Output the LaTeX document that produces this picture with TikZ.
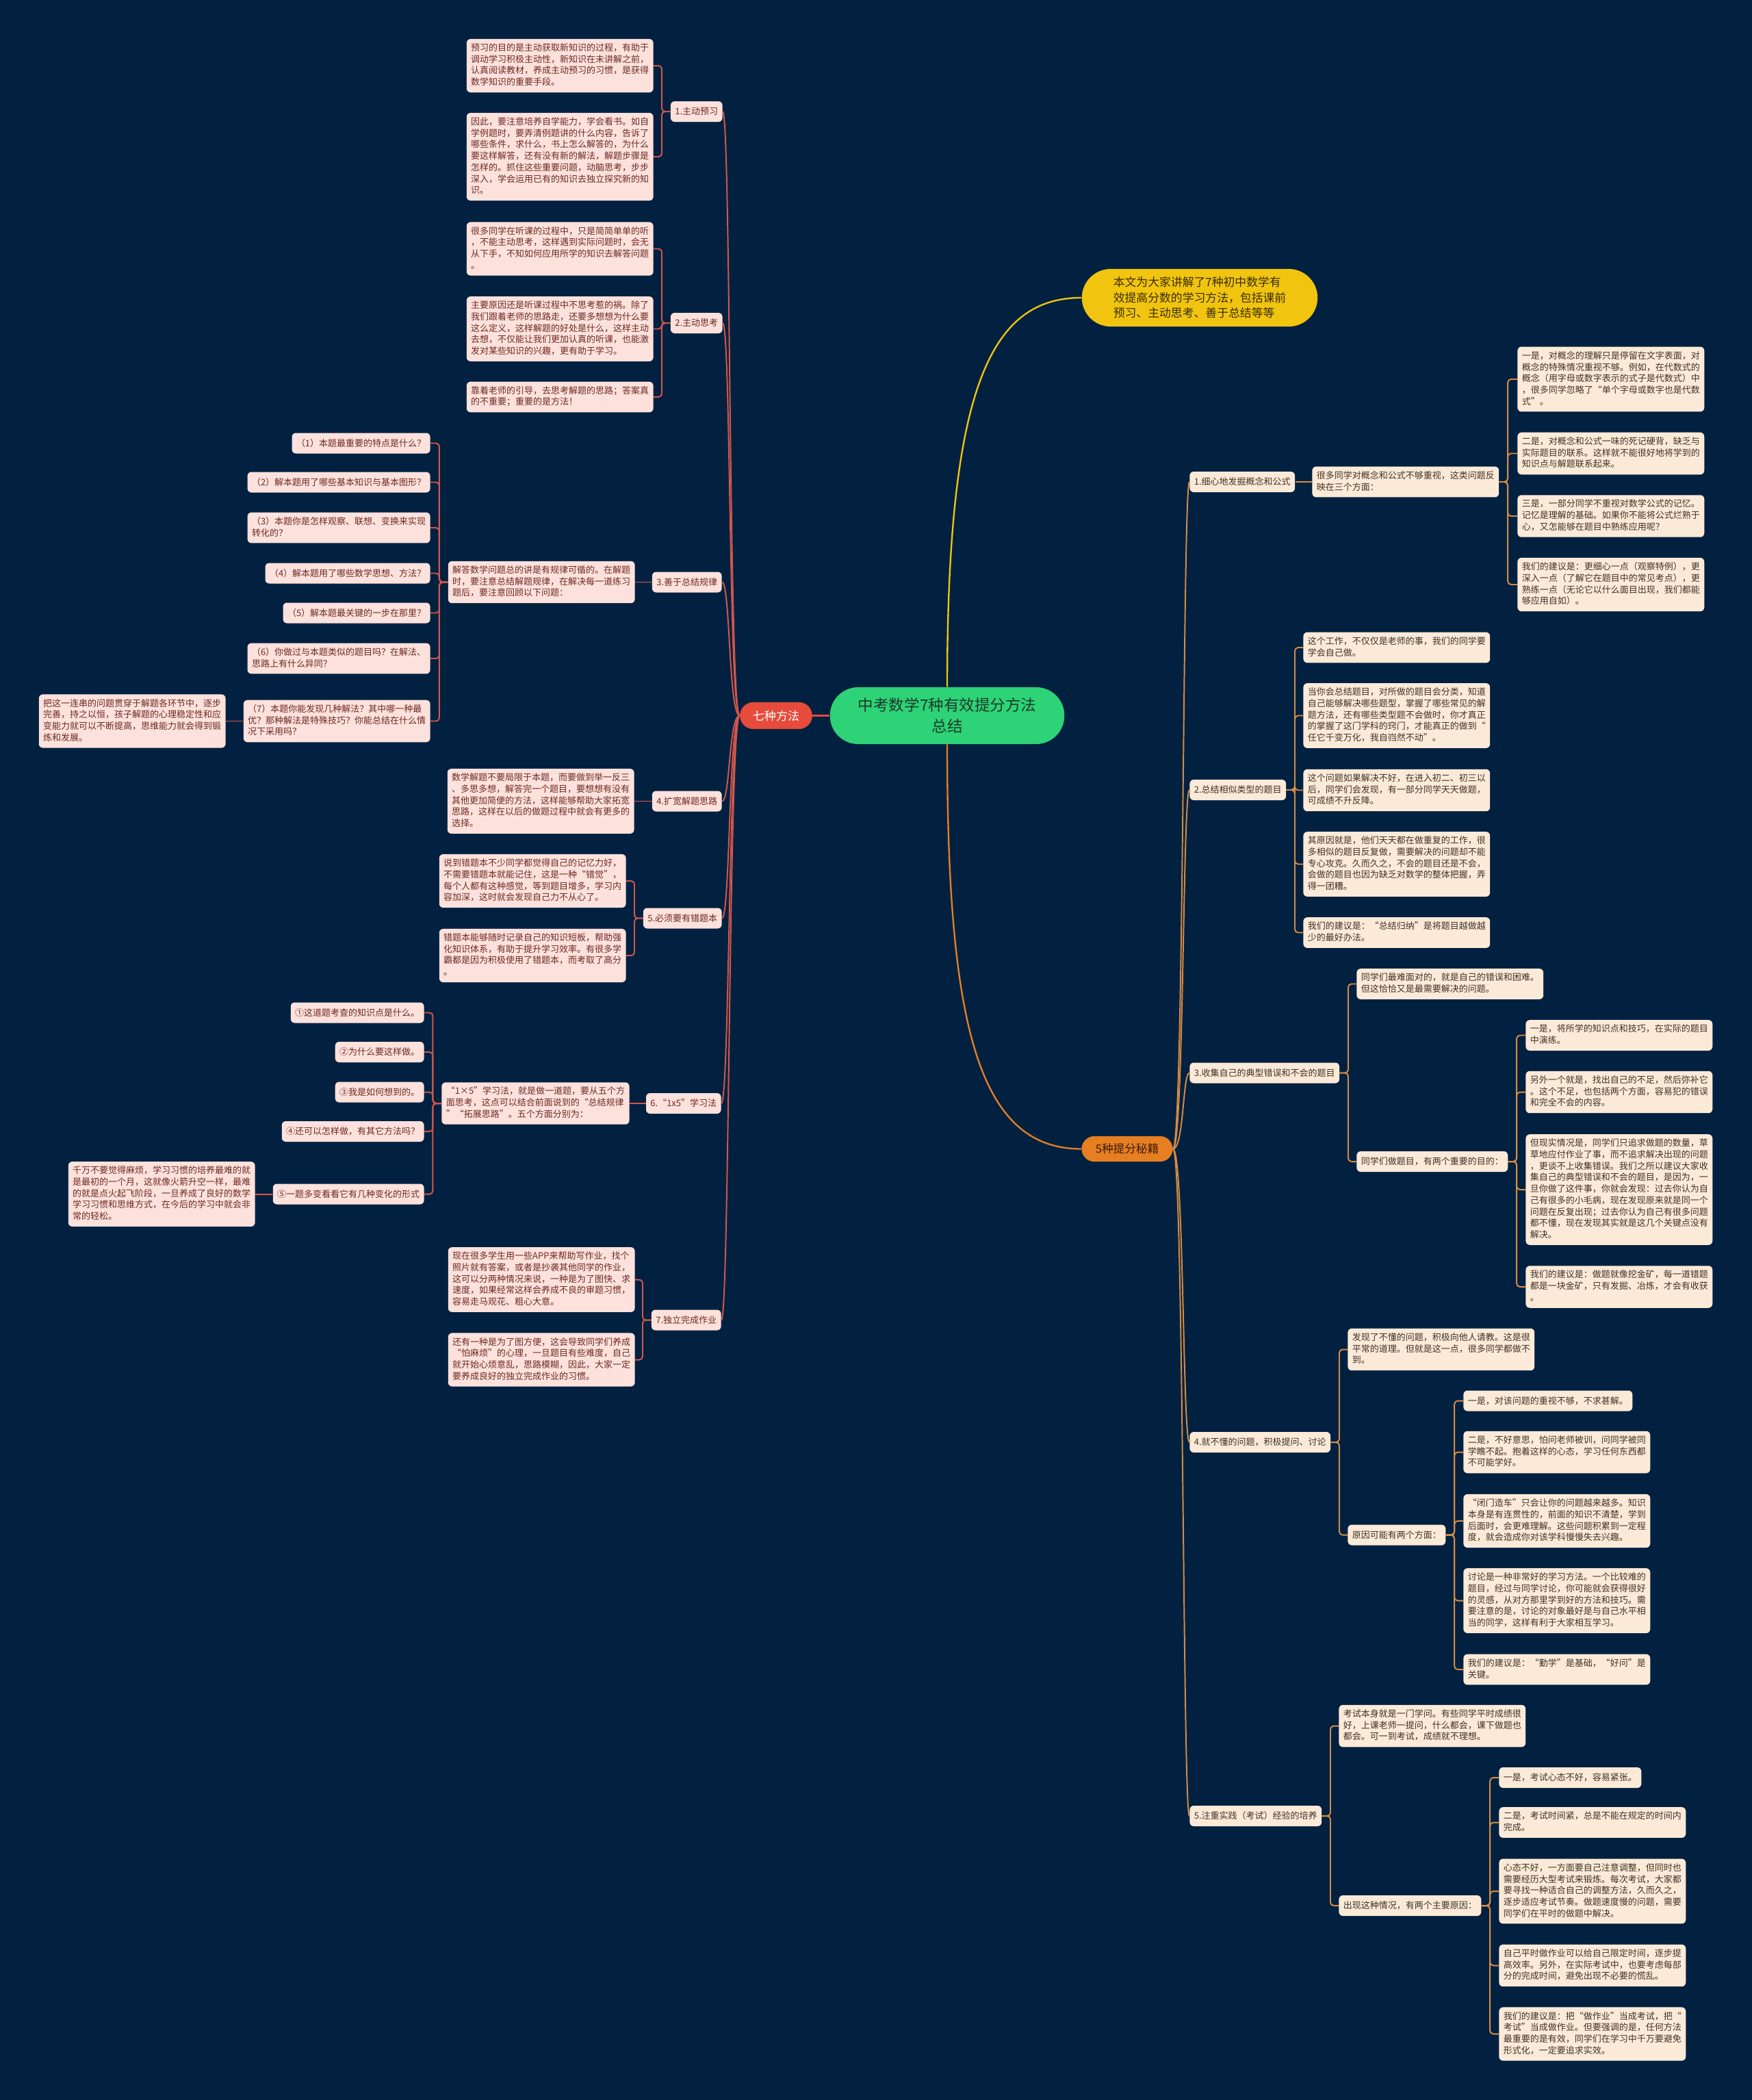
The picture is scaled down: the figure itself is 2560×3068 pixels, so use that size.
\documentclass[tikz,border=0pt]{standalone}
\usepackage{fontspec}
\setmainfont{Noto Sans CJK SC}
\usepackage{xcolor}
\usepackage{tikz}

\definecolor{bgnavy}{HTML}{022140}
\definecolor{leftfill}{HTML}{FCE1DC}
\definecolor{lefttext}{HTML}{6E2A22}
\definecolor{leftline}{HTML}{D4564B}
\definecolor{rightfill}{HTML}{FCEAD8}
\definecolor{righttext}{HTML}{3F3226}
\definecolor{rightline}{HTML}{D68B45}
\definecolor{rootgreen}{HTML}{2ED277}
\definecolor{roottext}{HTML}{1B3B26}
\definecolor{sevenred}{HTML}{E64B3C}
\definecolor{introyellow}{HTML}{F1C40F}
\definecolor{introtext}{HTML}{3A2E05}
\definecolor{fiveorange}{HTML}{E67E22}
\definecolor{fivetext}{HTML}{3B1E08}

\newcommand\bxs{\rule[-1.9pt]{0pt}{8.53pt}}

\tikzset{
  box/.style={rounded corners=3pt, align=left, inner xsep=3.3pt, inner ysep=3.4pt,
    font=\fontsize{6.64}{8.53}\selectfont,
    execute at begin node=\bxs, execute at end node=\bxs},
  lbox/.style={box, fill=leftfill, text=lefttext, anchor=east},
  rbox/.style={box, fill=rightfill, text=righttext, anchor=west},
  lline/.style={draw=leftline, line width=1pt, rounded corners=2.5pt},
  rline/.style={draw=rightline, line width=1pt, rounded corners=2.5pt},
  root/.style={fill=rootgreen, text=roottext, rounded corners=21pt, inner sep=0pt,
    minimum width=175pt, minimum height=42.4pt, align=center,
    font=\fontsize{11.5}{16}\selectfont},
  seven/.style={fill=sevenred, text=white, rounded corners=10pt, inner sep=0pt,
    minimum width=54pt, minimum height=20pt, font=\fontsize{8.7}{10}\selectfont},
  intro/.style={fill=introyellow, text=introtext, rounded corners=21.5pt, inner sep=0pt,
    minimum width=176pt, minimum height=43pt, align=left,
    font=\fontsize{8.6}{11.5}\selectfont},
  five/.style={fill=fiveorange, text=fivetext, rounded corners=9.5pt, inner sep=0pt,
    minimum width=68pt, minimum height=19pt, font=\fontsize{8.5}{10}\selectfont},
}

\begin{document}
\begin{tikzpicture}[x=0.5109375pt, y=-0.5109375pt]
% background
\fill[bgnavy] (0,0) rectangle (2560,3068);

% central topics
\node[root] (root) at (1384,1045.5) {中考数学7种有效提分方法\\总结};
\node[seven] (seven) at (1134,1045.5) {七种方法};
\node[intro] (intro) at (1753,435) {本文为大家讲解了7种初中数学有\\效提高分数的学习方法，包括课前\\预习、主动思考、善于总结等等};
\node[five] (five) at (1647,1678.5) {5种提分秘籍};

\draw[sevenred, line width=1.2pt] (root.west) -- (seven.east);
\draw[introyellow, line width=1.2pt] (root.north) .. controls (1384,560) and (1450,435) .. (intro.west);
\draw[fiveorange, line width=1.2pt] (root.south) .. controls (1384,1500) and (1430,1678.5) .. (five.west);

% left branch: seven methods
\node[lbox] (l1) at (1056,163) {1.主动预习};
\node[lbox] (pre1) at (955,96) {预习的目的是主动获取新知识的过程，有助于\\调动学习积极主动性，新知识在未讲解之前，\\认真阅读教材，养成主动预习的习惯，是获得\\数学知识的重要手段。};
\node[lbox] (pre2) at (955,229) {因此，要注意培养自学能力，学会看书。如自\\学例题时，要弄清例题讲的什么内容，告诉了\\哪些条件，求什么，书上怎么解答的，为什么\\要这样解答，还有没有新的解法，解题步骤是\\怎样的。抓住这些重要问题，动脑思考，步步\\深入，学会运用已有的知识去独立探究新的知\\识。};

\node[lbox] (l2) at (1056,472) {2.主动思考};
\node[lbox] (thk1) at (955,363.5) {很多同学在听课的过程中，只是简简单单的听\\，不能主动思考，这样遇到实际问题时，会无\\从下手，不知如何应用所学的知识去解答问题\\。};
\node[lbox] (thk2) at (955,480.5) {主要原因还是听课过程中不思考惹的祸。除了\\我们跟着老师的思路走，还要多想想为什么要\\这么定义，这样解题的好处是什么，这样主动\\去想，不仅能让我们更加认真的听课，也能激\\发对某些知识的兴趣，更有助于学习。};
\node[lbox] (thk3) at (955,580) {靠着老师的引导，去思考解题的思路；答案真\\的不重要；重要的是方法！};

\node[lbox] (l3) at (1055,850.5) {3.善于总结规律};
\node[lbox] (sum) at (928,850.5) {解答数学问题总的讲是有规律可循的。在解题\\时，要注意总结解题规律，在解决每一道练习\\题后，要注意回顾以下问题：};
\node[lbox] (q1) at (629,647.5) {（1）本题最重要的特点是什么？};
\node[lbox] (q2) at (629,704.5) {（2）解本题用了哪些基本知识与基本图形？};
\node[lbox] (q3) at (629,771) {（3）本题你是怎样观察、联想、变换来实现\\转化的？};
\node[lbox] (q4) at (629,837.5) {（4）解本题用了哪些数学思想、方法？};
\node[lbox] (q5) at (629,895.5) {（5）解本题最关键的一步在那里？};
\node[lbox] (q6) at (629,962) {（6）你做过与本题类似的题目吗？在解法、\\思路上有什么异同？};
\node[lbox] (q7) at (629,1053.5) {（7）本题你能发现几种解法？其中哪一种最\\优？那种解法是特殊技巧？你能总结在什么情\\况下采用吗？};
\node[lbox] (qend) at (330,1053.5) {把这一连串的问题贯穿于解题各环节中，逐步\\完善，持之以恒，孩子解题的心理稳定性和应\\变能力就可以不断提高，思维能力就会得到锻\\炼和发展。};

\node[lbox] (l4) at (1055,1170.5) {4.扩宽解题思路};
\node[lbox] (ext) at (927,1170.5) {数学解题不要局限于本题，而要做到举一反三\\、多思多想，解答完一个题目，要想想有没有\\其他更加简便的方法，这样能够帮助大家拓宽\\思路，这样在以后的做题过程中就会有更多的\\选择。};

\node[lbox] (l5) at (1055,1341.5) {5.必须要有错题本};
\node[lbox] (err1) at (915,1287) {说到错题本不少同学都觉得自己的记忆力好，\\不需要错题本就能记住，这是一种“错觉”，\\每个人都有这种感觉，等到题目增多，学习内\\容加深，这时就会发现自己力不从心了。};
\node[lbox] (err2) at (915,1396) {错题本能够随时记录自己的知识短板，帮助强\\化知识体系，有助于提升学习效率。有很多学\\霸都是因为积极使用了错题本，而考取了高分\\。};

\node[lbox] (l6) at (1054,1612) {6.“1x5”学习法};
\node[lbox] (fv) at (920,1612) {“1×5”学习法，就是做一道题，要从五个方\\面思考，这点可以结合前面说到的“总结规律\\”“拓展思路”。五个方面分别为：};
\node[lbox] (f1) at (620,1479.5) {①这道题考查的知识点是什么。};
\node[lbox] (f2) at (620,1537) {②为什么要这样做。};
\node[lbox] (f3) at (620,1595.5) {③我是如何想到的。};
\node[lbox] (f4) at (620,1653) {④还可以怎样做，有其它方法吗？};
\node[lbox] (f5) at (620,1744.5) {⑤一题多变看看它有几种变化的形式};
\node[lbox] (fend) at (373,1744.5) {千万不要觉得麻烦，学习习惯的培养最难的就\\是最初的一个月，这就像火箭升空一样，最难\\的就是点火起飞阶段，一旦养成了良好的数学\\学习习惯和思维方式，在今后的学习中就会非\\常的轻松。};

\node[lbox] (l7) at (1054,1928.5) {7.独立完成作业};
\node[lbox] (hw1) at (928,1869.5) {现在很多学生用一些APP来帮助写作业，找个\\照片就有答案，或者是抄袭其他同学的作业，\\这可以分两种情况来说，一种是为了图快、求\\速度，如果经常这样会养成不良的审题习惯，\\容易走马观花、粗心大意。};
\node[lbox] (hw2) at (928,1986.5) {还有一种是为了图方便，这会导致同学们养成\\“怕麻烦”的心理，一旦题目有些难度，自己\\就开始心烦意乱，思路模糊，因此，大家一定\\要养成良好的独立完成作业的习惯。};

% right branch: five tips
\node[rbox] (r1) at (1738,704) {1.细心地发掘概念和公式};
\node[rbox] (con) at (1917,704) {很多同学对概念和公式不够重视，这类问题反\\映在三个方面：};
\node[rbox] (con1) at (2217,554) {一是，对概念的理解只是停留在文字表面，对\\概念的特殊情况重视不够。例如，在代数式的\\概念（用字母或数字表示的式子是代数式）中\\，很多同学忽略了“单个字母或数字也是代数\\式”。};
\node[rbox] (con2) at (2217,662.5) {二是，对概念和公式一味的死记硬背，缺乏与\\实际题目的联系。这样就不能很好地将学到的\\知识点与解题联系起来。};
\node[rbox] (con3) at (2217,754) {三是，一部分同学不重视对数学公式的记忆。\\记忆是理解的基础。如果你不能将公式烂熟于\\心，又怎能够在题目中熟练应用呢？};
\node[rbox] (con4) at (2217,854) {我们的建议是：更细心一点（观察特例），更\\深入一点（了解它在题目中的常见考点），更\\熟练一点（无论它以什么面目出现，我们都能\\够应用自如）。};

\node[rbox] (r2) at (1738,1154) {2.总结相似类型的题目};
\node[rbox] (sim1) at (1904,946) {这个工作，不仅仅是老师的事，我们的同学要\\学会自己做。};
\node[rbox] (sim2) at (1904,1045.5) {当你会总结题目，对所做的题目会分类，知道\\自己能够解决哪些题型，掌握了哪些常见的解\\题方法，还有哪些类型题不会做时，你才真正\\的掌握了这门学科的窍门，才能真正的做到“\\任它千变万化，我自岿然不动”。};
\node[rbox] (sim3) at (1904,1154.5) {这个问题如果解决不好，在进入初二、初三以\\后，同学们会发现，有一部分同学天天做题，\\可成绩不升反降。};
\node[rbox] (sim4) at (1904,1262.5) {其原因就是，他们天天都在做重复的工作，很\\多相似的题目反复做，需要解决的问题却不能\\专心攻克。久而久之，不会的题目还是不会，\\会做的题目也因为缺乏对数学的整体把握，弄\\得一团糟。};
\node[rbox] (sim5) at (1904,1362.5) {我们的建议是：“总结归纳”是将题目越做越\\少的最好办法。};

\node[rbox] (r3) at (1738,1567.5) {3.收集自己的典型错误和不会的题目};
\node[rbox] (col1) at (1982,1437.5) {同学们最难面对的，就是自己的错误和困难。\\但这恰恰又是最需要解决的问题。};
\node[rbox] (colq) at (1982,1697) {同学们做题目，有两个重要的目的：};
\node[rbox] (colq1) at (2229,1512.5) {一是，将所学的知识点和技巧，在实际的题目\\中演练。};
\node[rbox] (colq2) at (2229,1595.5) {另外一个就是，找出自己的不足，然后弥补它\\。这个不足，也包括两个方面，容易犯的错误\\和完全不会的内容。};
\node[rbox] (colq3) at (2229,1738) {但现实情况是，同学们只追求做题的数量，草\\草地应付作业了事，而不追求解决出现的问题\\，更谈不上收集错误。我们之所以建议大家收\\集自己的典型错误和不会的题目，是因为，一\\旦你做了这件事，你就会发现：过去你认为自\\己有很多的小毛病，现在发现原来就是同一个\\问题在反复出现；过去你认为自己有很多问题\\都不懂，现在发现其实就是这几个关键点没有\\解决。};
\node[rbox] (colq4) at (2229,1880) {我们的建议是：做题就像挖金矿，每一道错题\\都是一块金矿，只有发掘、冶炼，才会有收获\\。};

\node[rbox] (r4) at (1738,2107) {4.就不懂的问题，积极提问、讨论};
\node[rbox] (ask1) at (1969,1971.5) {发现了不懂的问题，积极向他人请教。这是很\\平常的道理。但就是这一点，很多同学都做不\\到。};
\node[rbox] (askr) at (1969,2242.5) {原因可能有两个方面：};
\node[rbox] (askr1) at (2138,2046.5) {一是，对该问题的重视不够，不求甚解。};
\node[rbox] (askr2) at (2138,2121.5) {二是，不好意思，怕问老师被训，问同学被同\\学瞧不起。抱着这样的心态，学习任何东西都\\不可能学好。};
\node[rbox] (askr3) at (2138,2222) {“闭门造车”只会让你的问题越来越多。知识\\本身是有连贯性的，前面的知识不清楚，学到\\后面时，会更难理解。这些问题积累到一定程\\度，就会造成你对该学科慢慢失去兴趣。};
\node[rbox] (askr4) at (2138,2338.5) {讨论是一种非常好的学习方法。一个比较难的\\题目，经过与同学讨论，你可能就会获得很好\\的灵感，从对方那里学到好的方法和技巧。需\\要注意的是，讨论的对象最好是与自己水平相\\当的同学，这样有利于大家相互学习。};
\node[rbox] (askr5) at (2138,2439) {我们的建议是：“勤学”是基础，“好问”是\\关键。};

\node[rbox] (r5) at (1738,2653) {5.注重实践（考试）经验的培养};
\node[rbox] (exm1) at (1956,2521.5) {考试本身就是一门学问。有些同学平时成绩很\\好，上课老师一提问，什么都会，课下做题也\\都会。可一到考试，成绩就不理想。};
\node[rbox] (exmr) at (1956,2784) {出现这种情况，有两个主要原因：};
\node[rbox] (exmr1) at (2190,2597) {一是，考试心态不好，容易紧张。};
\node[rbox] (exmr2) at (2190,2662.5) {二是，考试时间紧，总是不能在规定的时间内\\完成。};
\node[rbox] (exmr3) at (2190,2763) {心态不好，一方面要自己注意调整，但同时也\\需要经历大型考试来锻炼。每次考试，大家都\\要寻找一种适合自己的调整方法，久而久之，\\逐步适应考试节奏。做题速度慢的问题，需要\\同学们在平时的做题中解决。};
\node[rbox] (exmr4) at (2190,2871.5) {自己平时做作业可以给自己限定时间，逐步提\\高效率。另外，在实际考试中，也要考虑每部\\分的完成时间，避免出现不必要的慌乱。};
\node[rbox] (exmr5) at (2190,2971.5) {我们的建议是：把“做作业”当成考试，把“\\考试”当成做作业。但要强调的是，任何方法\\最重要的是有效，同学们在学习中千万要避免\\形式化，一定要追求实效。};

% trunks
\foreach \l in {l1,l2,l3,l4,l5,l6,l7}
  \draw[lline] (seven.west) .. controls +(-16,0) and +(12,0) .. (\l.east);
\foreach \r in {r1,r2,r3,r4,r5}
  \draw[rline] (five.east) .. controls +(16,0) and +(-10,0) .. (\r.west);

% brackets to the children
\foreach \p/\c in {l1/pre1,l1/pre2,l2/thk1,l2/thk2,l2/thk3,sum/q1,sum/q2,sum/q3,sum/q4,sum/q5,sum/q6,sum/q7,l5/err1,l5/err2,fv/f1,fv/f2,fv/f3,fv/f4,fv/f5,l7/hw1,l7/hw2}
  \draw[lline] (\p.west) -- ++(-12.5,0) |- (\c.east);
\foreach \p/\c in {l3/sum,q7/qend,l4/ext,l6/fv,f5/fend}
  \draw[lline] (\p.west) -- (\c.east);
\foreach \p/\c in {con/con1,con/con2,con/con3,con/con4,r2/sim1,r2/sim2,r2/sim3,r2/sim4,r2/sim5,r3/col1,r3/colq,colq/colq1,colq/colq2,colq/colq3,colq/colq4,r4/ask1,r4/askr,askr/askr1,askr/askr2,askr/askr3,askr/askr4,askr/askr5,r5/exm1,r5/exmr,exmr/exmr1,exmr/exmr2,exmr/exmr3,exmr/exmr4,exmr/exmr5}
  \draw[rline] (\p.east) -- ++(12.5,0) |- (\c.west);
\draw[rline] (r1.east) -- (con.west);
\end{tikzpicture}
\end{document}
